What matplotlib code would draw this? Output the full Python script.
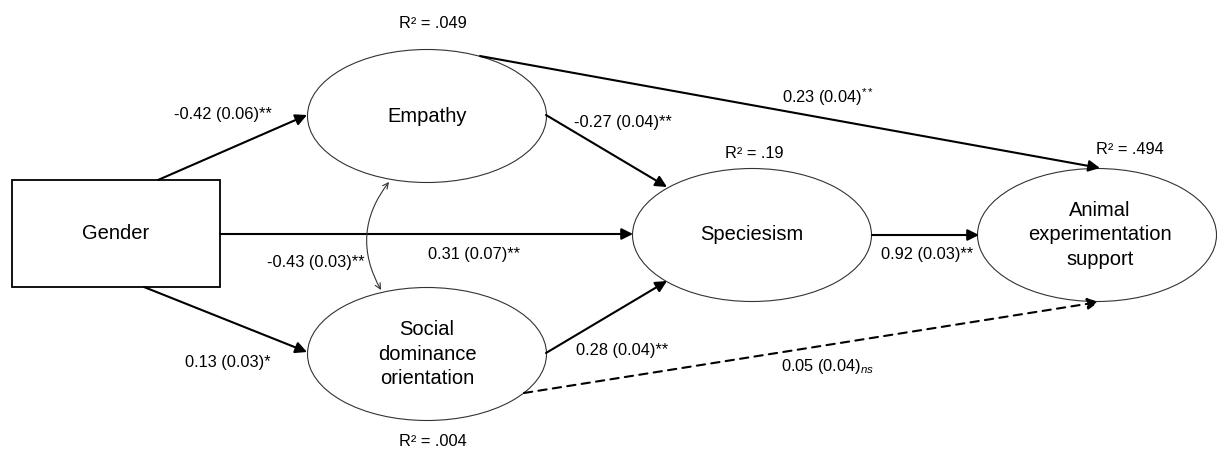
import matplotlib
matplotlib.use("Agg")
import matplotlib.pyplot as plt
from matplotlib.patches import Ellipse, Rectangle

plt.rcParams['font.family'] = ['Liberation Sans', 'DejaVu Sans']
plt.rcParams['mathtext.fontset'] = 'custom'
plt.rcParams['mathtext.rm'] = 'Liberation Sans'
plt.rcParams['mathtext.it'] = 'Liberation Sans:italic'

# node names and explained variance
node_names = ['Gender', 'Empathy', 'Social\ndominance\norientation', 'Speciesism',
              'Animal\nexperimentation\nsupport']
r_squared = ['', '.049', '.004', '.19', '.494']

# path coefficients (estimate, standard error, significance)
path_from = ['Gender', 'Gender', 'Gender', 'Empathy', 'Social', 'Speciesism', 'Empathy', 'Social']
path_to = ['Empathy', 'Social', 'Speciesism', 'Speciesism', 'Speciesism', 'Animal', 'Animal', 'Animal']
path_est = ['-0.42', '0.13', '0.31', '-0.27', '0.28', '0.92', '0.23', '0.05']
path_se = ['0.06', '0.03', '0.07', '0.04', '0.04', '0.03', '0.04', '0.04']
path_sig = ['**', '*', '**', '**', '**', '**', '$^{**}$', r'$_{\mathit{ns}}$']
path_dashed = [False, False, False, False, False, False, False, True]

# covariance between the two mediators
cov_est, cov_se, cov_sig = '-0.43', '0.03', '**'

fig = plt.figure(figsize=(12.17, 4.5), dpi=100)
ax = fig.add_axes([0, 0, 1, 1])
ax.set_xlim(0, 1217)
ax.set_ylim(450, 0)
ax.axis('off')

# layout (pixel positions)
box = (12, 180, 208, 107)
centers = {'Empathy': (427, 116), 'Social': (427, 354),
           'Speciesism': (752, 235), 'Animal': (1097, 235)}
ell_w, ell_h = 239, 133
node_fs = 14.5
lab_fs = 11.8

ax.add_patch(Rectangle((box[0], box[1]), box[2], box[3], fill=False, lw=1.3, ec='black'))
ax.text(box[0] + box[2] / 2, box[1] + box[3] / 2, node_names[0], ha='center', va='center', fontsize=node_fs)

for key, name in zip(['Empathy', 'Social', 'Speciesism', 'Animal'], node_names[1:]):
    cx, cy = centers[key]
    ax.add_patch(Ellipse((cx, cy), ell_w, ell_h, fill=False, lw=0.8, ec='#333333'))
    ax.text(cx + (3 if key == 'Animal' else 0), cy, name, ha='center', va='center',
            fontsize=node_fs, linespacing=1.38)

r2_pos = [None, (433, 23), (433, 442), (754, 153), (1130, 149)]
for pos, r2 in zip(r2_pos, r_squared):
    if pos:
        ax.text(pos[0], pos[1], 'R² = ' + r2, ha='center', va='center', fontsize=lab_fs)

# arrow geometry
starts = [(158, 180), (144, 287), (220, 234), (546, 115), (546, 353), (872, 235), (480, 56), (524, 393)]
ends = [(307, 115), (307, 352), (633, 234), (667, 187), (667, 281), (979, 235), (1100, 168), (1099, 302)]
label_pos = [(223, 115), (228, 363), (474, 255), (623, 122), (622, 350), (927, 254), (828, 97), (828, 366)]

for s, e, lp, est, se, sig, dashed in zip(starts, ends, label_pos, path_est, path_se, path_sig, path_dashed):
    ax.annotate('', xy=e, xytext=s,
                arrowprops=dict(arrowstyle='-|>', color='black', lw=1.5,
                                linestyle=(0, (4, 3)) if dashed else '-',
                                mutation_scale=17, shrinkA=0, shrinkB=0))
    ax.text(lp[0], lp[1], f'{est} ({se}){sig}', ha='center', va='center', fontsize=lab_fs)

# curved double-headed covariance arrow
ax.annotate('', xy=(381, 290), xytext=(389, 182),
            arrowprops=dict(arrowstyle='<->', color='#333333', lw=0.8, mutation_scale=10,
                            connectionstyle='arc3,rad=0.33', shrinkA=0, shrinkB=0))
ax.text(316, 263, f'{cov_est} ({cov_se}){cov_sig}', ha='center', va='center', fontsize=lab_fs)

fig.savefig('out.png', dpi=100)
